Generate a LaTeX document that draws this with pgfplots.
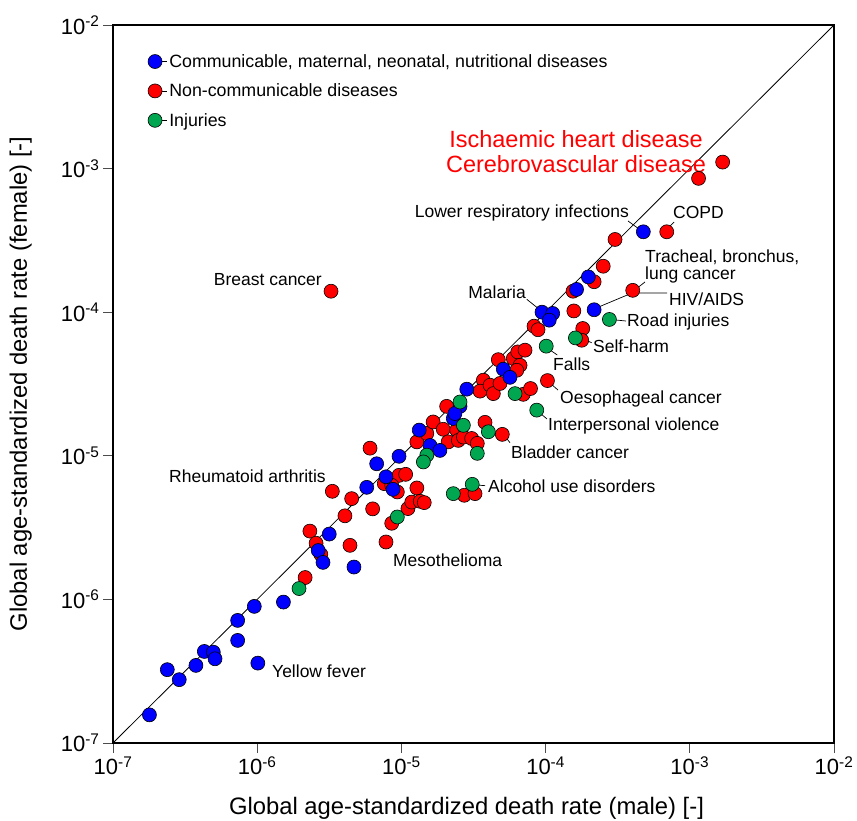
\documentclass[border=0pt]{standalone}
\usepackage{fontspec}
\setmainfont{Liberation Sans}
\usepackage{pgfplots}
\pgfplotsset{compat=1.18}
\definecolor{cblue}{RGB}{0,0,255}
\definecolor{cred}{RGB}{255,0,0}
\definecolor{cgreen}{RGB}{0,166,80}
\tikzset{lbl/.style={font=\fontsize{17.5}{20}\selectfont, inner sep=0pt}}
\begin{document}
\begin{tikzpicture}
\begin{axis}[
 set layers,
 scale only axis, width=721pt, height=718pt,
 xmode=log, ymode=log, xmin=1e-7, xmax=1e-2, ymin=1e-7, ymax=1e-2,
 xtick={1e-7,1e-6,1e-5,1e-4,1e-3,1e-2},
 ytick={1e-7,1e-6,1e-5,1e-4,1e-3,1e-2},
 xticklabels={10\textsuperscript{-7},10\textsuperscript{-6},10\textsuperscript{-5},10\textsuperscript{-4},10\textsuperscript{-3},10\textsuperscript{-2}},
 yticklabels={10\textsuperscript{-7},10\textsuperscript{-6},10\textsuperscript{-5},10\textsuperscript{-4},10\textsuperscript{-3},10\textsuperscript{-2}},
 xminorticks=false, yminorticks=false,
 tick pos=left, tick align=outside, major tick length=10pt,
 tick style={draw=gray!60!black, line width=0.8pt},
 axis line style={line width=2.5pt},
 ticklabel style={font=\fontsize{22}{24}\selectfont},
 xlabel={Global age-standardized death rate (male) [-]},
 ylabel={Global age-standardized death rate (female) [-]},
 label style={font=\fontsize{23.8}{26}\selectfont},
 xlabel style={at={(axis description cs:0.4903,-0.0905)}, anchor=center},
 ylabel style={at={(axis description cs:-0.128,0.5)}, anchor=center},
 legend style={at={(axis description cs:0.0439,0.965)}, anchor=north west, draw=none, fill=none,
   font=\fontsize{17.8}{20}\selectfont, row sep=11pt},
 legend cell align=left,
 legend image code/.code={\path (-7pt,0pt) -- (12pt,0pt); \draw[#1] plot coordinates {(0pt,0pt)};},
 every axis plot/.append style={only marks, mark=*, mark size=7pt},
]
\addlegendimage{only marks, mark=*, mark size=7pt, mark options={fill=cblue, draw=black, line width=0.6pt}}
\addlegendentry{Communicable, maternal, neonatal, nutritional diseases}
\addlegendimage{only marks, mark=*, mark size=7pt, mark options={fill=cred, draw=black, line width=0.6pt}}
\addlegendentry{Non-communicable diseases}
\addlegendimage{only marks, mark=*, mark size=7pt, mark options={fill=cgreen, draw=black, line width=0.6pt}}
\addlegendentry{Injuries}

\addplot[forget plot, no marks, sharp plot, draw=black, line width=0.8pt] coordinates {(1e-7,1e-7) (1e-2,1e-2)};

% Non-communicable
\addplot[forget plot, mark options={fill=cred, draw=black, line width=0.6pt}] coordinates {
(2.15e-6,1.42e-6) (2.32e-6,2.99e-6) (2.56e-6,2.46e-6) (2.76e-6,2.06e-6)
(3.32e-6,5.66e-6) (4.06e-6,3.82e-6) (4.40e-6,2.38e-6) (4.52e-6,5.03e-6)
(6.06e-6,1.13e-5) (6.32e-6,4.27e-6) (7.61e-6,6.40e-6) (9.63e-6,7.31e-6)
(1.07e-5,7.43e-6) (8.57e-6,6.23e-6) (9.37e-6,5.60e-6) (7.82e-6,2.51e-6)
(8.57e-6,3.39e-6) (1.11e-5,4.29e-6) (1.18e-5,4.76e-6) (1.28e-5,5.97e-6)
(1.35e-5,4.82e-6) (1.44e-5,4.72e-6) (1.28e-5,1.25e-5) (1.50e-5,1.43e-5)
(1.66e-5,1.72e-5) (1.95e-5,1.53e-5) (2.11e-5,1.25e-5) (2.42e-5,1.51e-5)
(2.48e-5,1.28e-5) (2.69e-5,1.35e-5) (3.07e-5,1.32e-5) (3.36e-5,1.22e-5)
(2.06e-5,2.21e-5) (3.80e-5,1.71e-5) (5.01e-5,1.41e-5) (2.73e-5,5.31e-6)
(3.24e-5,5.45e-6) (3.70e-5,3.36e-5) (3.51e-5,2.82e-5) (4.12e-5,3.10e-5)
(4.34e-5,2.71e-5) (4.83e-5,3.19e-5) (4.70e-5,4.67e-5) (5.97e-5,4.76e-5)
(6.41e-5,5.29e-5) (7.20e-5,5.44e-5) (6.65e-5,4.27e-5) (6.31e-5,3.94e-5)
(7.00e-5,2.68e-5) (7.86e-5,2.94e-5) (1.03e-4,3.34e-5) (8.31e-5,7.99e-5)
(8.86e-5,7.55e-5) (1.57e-4,1.02e-4) (1.55e-4,1.40e-4) (1.81e-4,7.70e-5)
(1.78e-4,6.38e-5) (2.17e-4,1.63e-4) (2.51e-4,2.09e-4) (3.03e-4,3.21e-4)
(4.02e-4,1.42e-4) (6.92e-4,3.63e-4) (1.15e-3,8.55e-4) (1.69e-3,1.11e-3)
(3.25e-6,1.40e-4)
};
% Communicable
\addplot[forget plot, mark options={fill=cblue, draw=black, line width=0.6pt}] coordinates {
(1.79e-7,1.57e-7) (2.38e-7,3.24e-7) (2.88e-7,2.76e-7) (3.76e-7,3.47e-7)
(4.30e-7,4.34e-7) (4.96e-7,4.29e-7) (5.10e-7,3.86e-7) (7.32e-7,7.14e-7)
(7.32e-7,5.18e-7) (9.55e-7,8.94e-7) (1.01e-6,3.60e-7) (1.52e-6,9.58e-7)
(2.65e-6,2.19e-6) (2.86e-6,1.81e-6) (3.16e-6,2.85e-6) (4.69e-6,1.68e-6)
(5.75e-6,6.03e-6) (6.74e-6,8.80e-6) (7.82e-6,7.14e-6) (9.63e-6,9.92e-6)
(8.75e-6,5.84e-6) (1.33e-5,1.51e-5) (1.58e-5,1.18e-5) (1.85e-5,1.09e-5)
(2.29e-5,1.82e-5) (2.55e-5,2.21e-5) (2.84e-5,2.91e-5) (2.35e-5,1.97e-5)
(5.09e-5,4.01e-5) (5.66e-5,3.52e-5) (9.44e-5,1.00e-4) (1.12e-4,9.80e-5)
(1.06e-4,8.80e-5) (1.64e-4,1.44e-4) (1.98e-4,1.76e-4) (2.17e-4,1.04e-4)
(4.76e-4,3.63e-4)
};
% Injuries
\addplot[forget plot, mark options={fill=cgreen, draw=black, line width=0.6pt}] coordinates {
(1.95e-6,1.19e-6) (9.37e-6,3.75e-6) (1.50e-5,1.01e-5) (1.42e-5,9.06e-6)
(3.36e-5,1.04e-5) (2.69e-5,1.63e-5) (2.55e-5,2.37e-5) (4.01e-5,1.47e-5)
(2.29e-5,5.45e-6) (3.10e-5,6.33e-6) (6.14e-5,2.71e-5) (1.01e-4,5.80e-5)
(8.68e-5,2.08e-5) (1.61e-4,6.62e-5) (2.77e-4,8.90e-5)
};

% leader lines
\begin{pgfonlayer}{axis background}
\draw[black, line width=0.7pt] (rel axis cs:0.7143,0.7270) -- (rel axis cs:0.7295,0.7159);
\draw[black, line width=0.7pt] (rel axis cs:0.7781,0.7256) -- (rel axis cs:0.7670,0.7145);
\draw[black, line width=0.7pt] (rel axis cs:0.7379,0.6421) -- (rel axis cs:0.7254,0.6323);
\draw[black, line width=0.7pt] (rel axis cs:0.6671,0.6045) -- (rel axis cs:0.7198,0.6267) -- (rel axis cs:0.7684,0.6267);
\draw[black, line width=0.7pt] (rel axis cs:0.6976,0.5891) -- (rel axis cs:0.7115,0.5877);
\draw[black, line width=0.7pt] (rel axis cs:0.6500,0.5636) -- (rel axis cs:0.6639,0.5575);
\draw[black, line width=0.7pt] (rel axis cs:0.6061,0.5474) -- (rel axis cs:0.6162,0.5404);
\draw[black, line width=0.7pt] (rel axis cs:0.6075,0.5000) -- (rel axis cs:0.6172,0.4916);
\draw[black, line width=0.7pt] (rel axis cs:0.5922,0.4596) -- (rel axis cs:0.6019,0.4513);
\draw[black, line width=0.7pt] (rel axis cs:0.5447,0.4258) -- (rel axis cs:0.5506,0.4183);
\draw[black, line width=0.7pt] (rel axis cs:0.5044,0.3593) -- (rel axis cs:0.5160,0.3584);
\draw[black, line width=0.7pt] (rel axis cs:0.5738,0.6180) -- (rel axis cs:0.5913,0.6040);
\end{pgfonlayer}

% labels
\node[text=cred, font=\fontsize{23.5}{26}\selectfont, inner sep=0pt] at (rel axis cs:0.6422,0.8412) {Ischaemic heart disease};
\node[text=cred, font=\fontsize{23.5}{26}\selectfont, inner sep=0pt] at (rel axis cs:0.6422,0.8064) {Cerebrovascular disease};
\node[lbl, anchor=east] at (rel axis cs:0.7157,0.7382) {Lower respiratory infections};
\node[lbl, anchor=west] at (rel axis cs:0.7767,0.7382) {COPD};
\node[lbl, anchor=west] at (rel axis cs:0.7379,0.6769) {Tracheal, bronchus,};
\node[lbl, anchor=west] at (rel axis cs:0.7379,0.6518) {lung cancer};
\node[lbl, anchor=west] at (rel axis cs:0.7712,0.6184) {HIV/AIDS};
\node[lbl, anchor=west] at (rel axis cs:0.7129,0.5864) {Road injuries};
\node[lbl, anchor=west] at (rel axis cs:0.6657,0.5529) {Self-harm};
\node[lbl, anchor=west] at (rel axis cs:0.6103,0.5279) {Falls};
\node[lbl, anchor=west] at (rel axis cs:0.6200,0.4791) {Oesophageal cancer};
\node[lbl, anchor=west] at (rel axis cs:0.6033,0.4415) {Interpersonal violence};
\node[lbl, anchor=west] at (rel axis cs:0.5520,0.4053) {Bladder cancer};
\node[lbl, anchor=west] at (rel axis cs:0.5201,0.3579) {Alcohol use disorders};
\node[lbl, anchor=west] at (rel axis cs:0.3883,0.2549) {Mesothelioma};
\node[lbl, anchor=west] at (rel axis cs:0.2205,0.1003) {Yellow fever};
\node[lbl, anchor=east] at (rel axis cs:0.2954,0.3719) {Rheumatoid arthritis};
\node[lbl, anchor=east] at (rel axis cs:0.2899,0.6448) {Breast cancer};
\node[lbl, anchor=east] at (rel axis cs:0.5728,0.6281) {Malaria};
\end{axis}
\pgfresetboundingbox
\useasboundingbox (-113pt,-78pt) rectangle (744pt,743pt);
\end{tikzpicture}
\end{document}
